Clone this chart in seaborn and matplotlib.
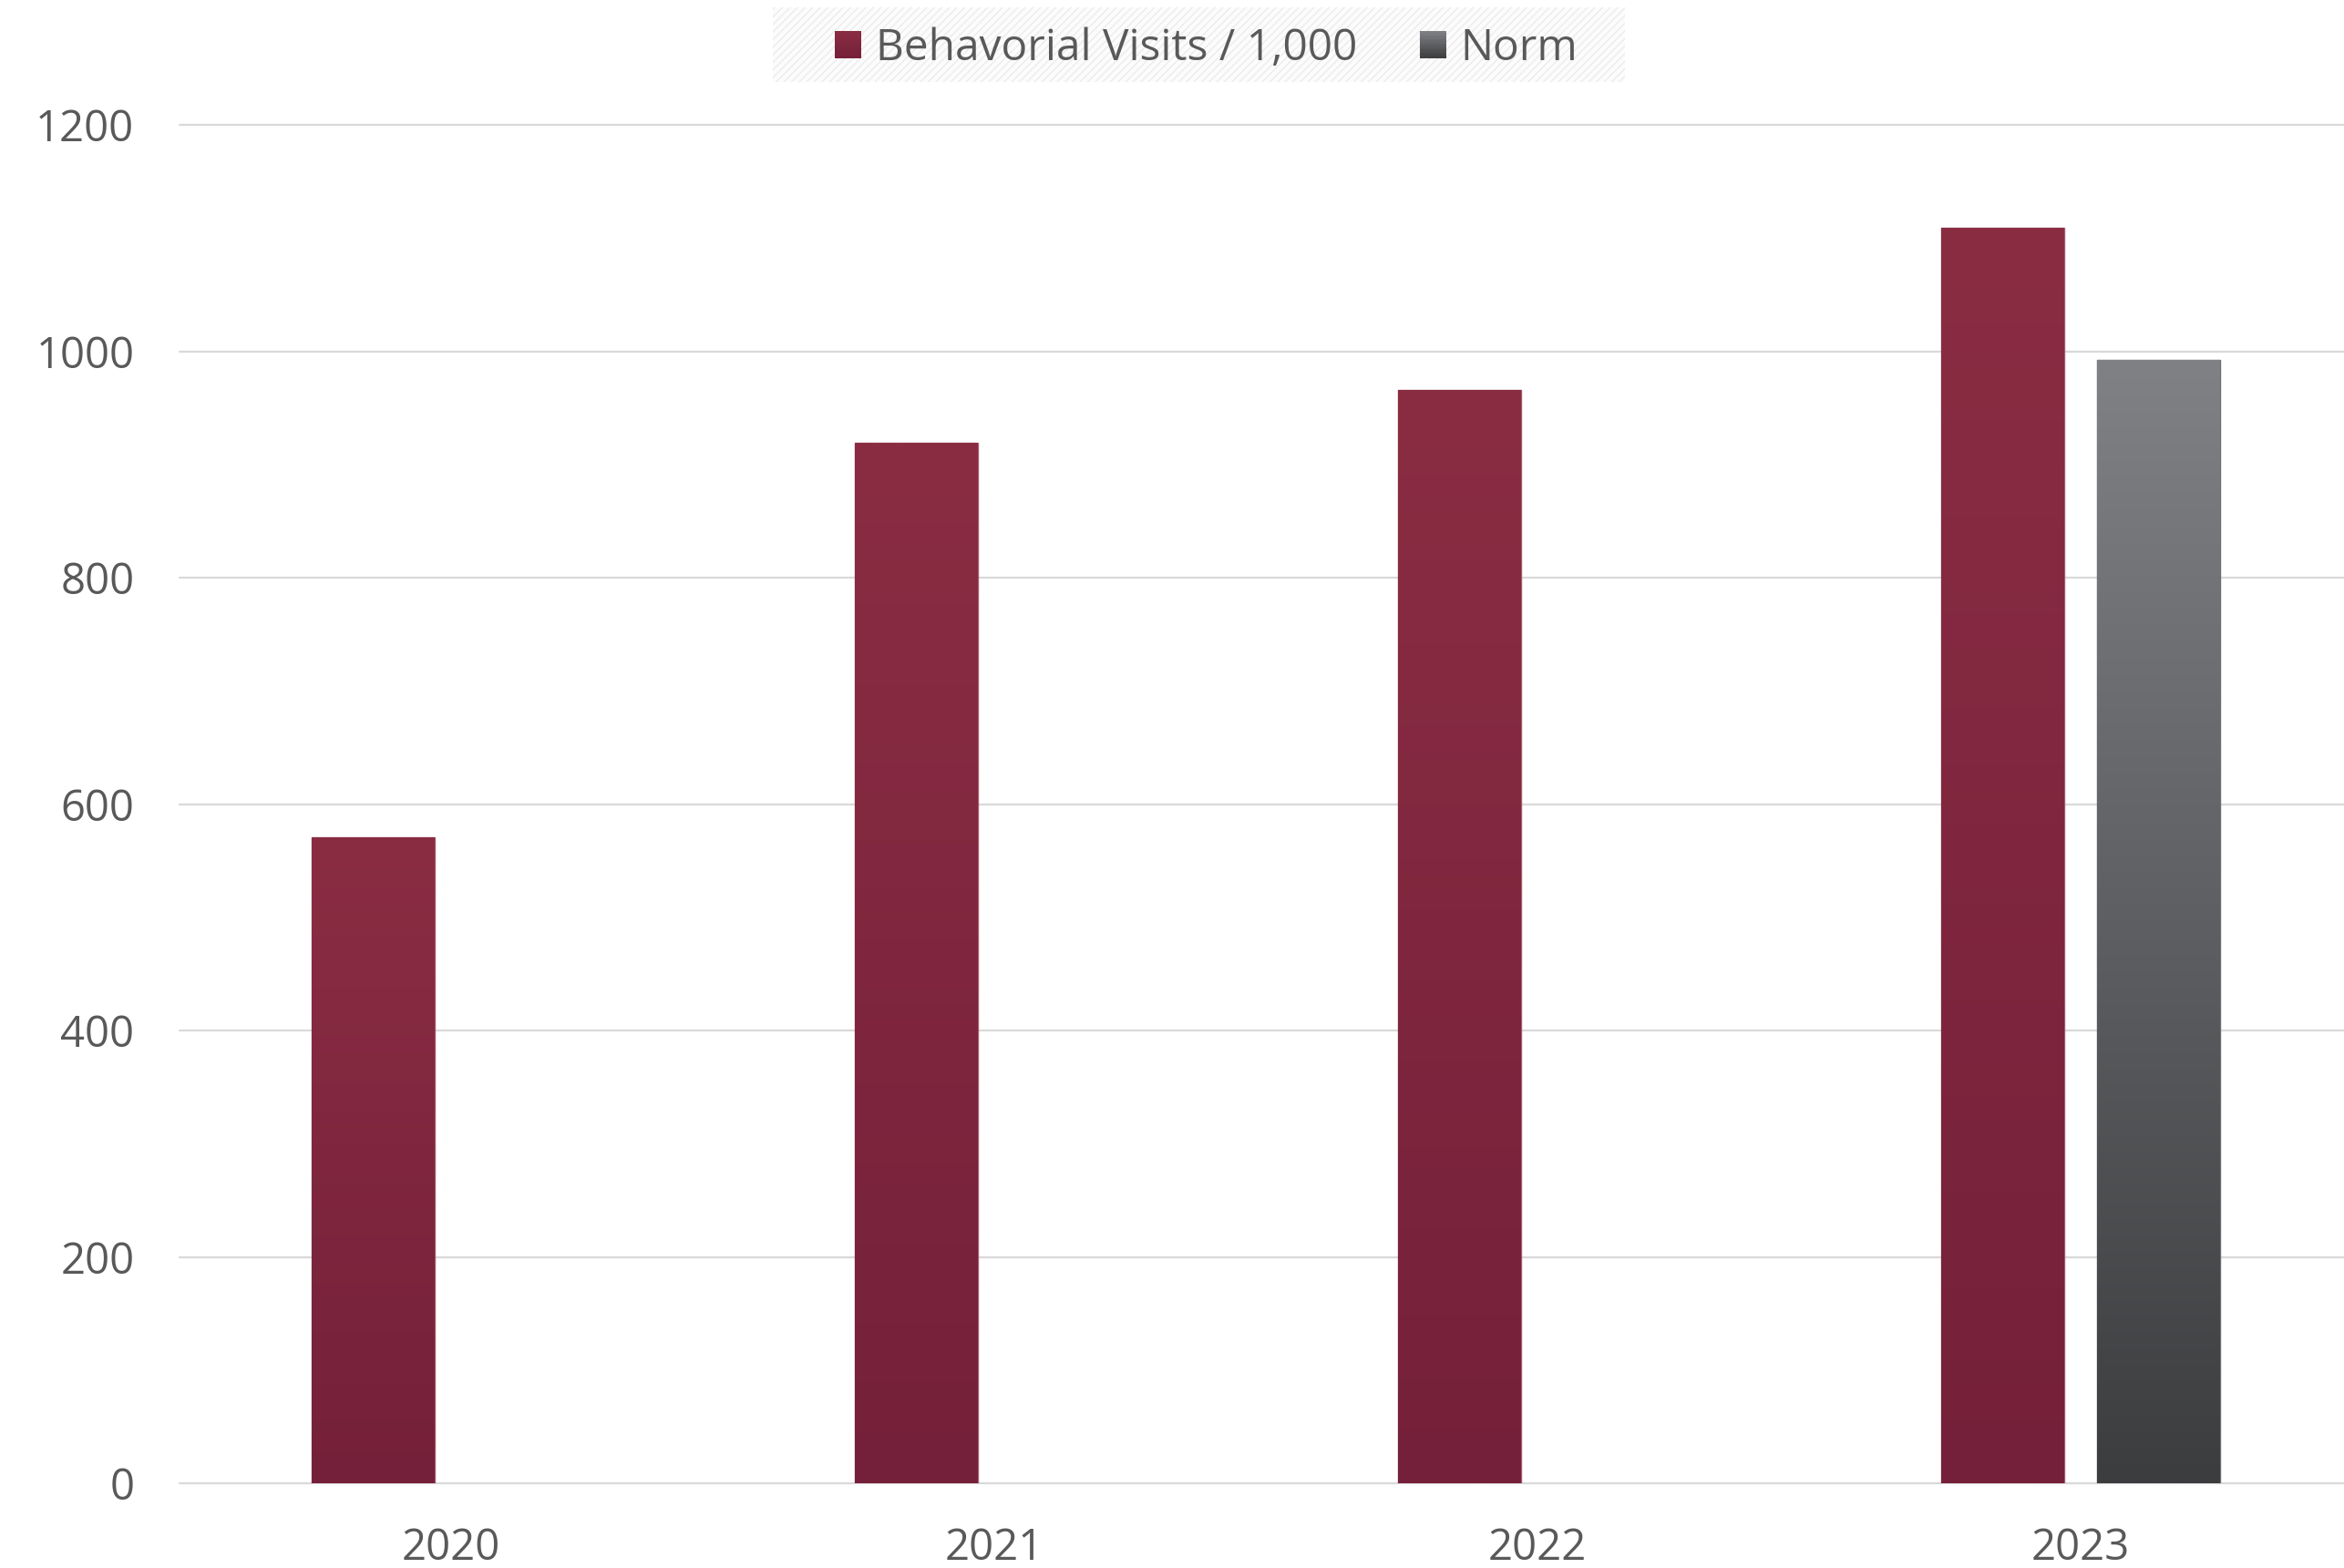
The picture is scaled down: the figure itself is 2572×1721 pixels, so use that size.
import numpy as np
import pandas as pd
import matplotlib
matplotlib.use("Agg")
import matplotlib.pyplot as plt
from matplotlib.patches import Patch, Rectangle
from matplotlib.legend_handler import HandlerBase
from matplotlib.colors import to_rgb
import seaborn as sns

# Chart data
years = ["2020", "2021", "2022", "2023"]
visits = [571, 919, 966, 1109]
norm_years = ["2023"]
norm = [992]
series_names = ["Behavorial Visits / 1,000", "Norm"]
y_ticks = [0, 200, 400, 600, 800, 1000, 1200]

# Long-form table for seaborn
df = pd.concat([
    pd.DataFrame({"Year": years, "Series": series_names[0], "Value": visits}),
    pd.DataFrame({"Year": norm_years, "Series": series_names[1], "Value": norm}),
], ignore_index=True)

sns.set_style("white")
plt.rcParams["font.family"] = ["Open Sans", "DejaVu Sans"]
plt.rcParams["hatch.linewidth"] = 1.0

text_color = "#595959"
grid_color = "#d9d9d9"
# top / bottom colours of the vertical gradients
grads = {
    series_names[0]: ("#8a2d43", "#75203a"),
    series_names[1]: ("#7f8185", "#3c3d3f"),
}
edges = {series_names[0]: "#a5596d", series_names[1]: "#6a6c70"}


def gradient_colors(name, n):
    top, bottom = np.array(to_rgb(grads[name][0])), np.array(to_rgb(grads[name][1]))
    t = np.linspace(0, 1, n)[:, None]
    return top * (1 - t) + bottom * t


class GradientHandler(HandlerBase):
    # legend square drawn as thin stacked bands (top light -> bottom dark)
    def __init__(self, name, n=24):
        super().__init__()
        self.name = name
        self.n = n

    def create_artists(self, legend, orig_handle, xdescent, ydescent,
                       width, height, fontsize, trans):
        cols = gradient_colors(self.name, self.n)
        band = height / self.n
        arts = []
        for i, c in enumerate(cols):
            y = -ydescent + height - (i + 1) * band
            r = Rectangle((-xdescent, y), width, band * 1.05, facecolor=c,
                          edgecolor="none", transform=trans)
            arts.append(r)
        return arts


fig = plt.figure(figsize=(25.72, 17.21), dpi=100)
ax = fig.add_axes([0.0767, 0.054, 0.9267, 0.8664])

sns.barplot(data=df, x="Year", y="Value", hue="Series", order=years,
            hue_order=series_names,
            palette=[grads[s][0] for s in series_names],
            width=0.574, gap=0.211, legend=False, ax=ax, saturation=1)

ax.set_xlim(-0.5, len(years) - 0.5)
ax.set_ylim(0, 1200)
ax.set_yticks(y_ticks)
ax.set_xlabel("")
ax.set_ylabel("")
sns.despine(ax=ax, left=True, bottom=True)
ax.set_axisbelow(True)
ax.yaxis.grid(True, color=grid_color, linewidth=1.6)
for gl in ax.get_ygridlines():
    gl.set_clip_on(False)
ax.tick_params(axis="both", length=0, labelsize=34, colors=text_color)
ax.tick_params(axis="x", pad=34)
ax.tick_params(axis="y", pad=36)

# vertical gradient fill for each bar
for container, name in zip(ax.containers, series_names):
    img = gradient_colors(name, 256)[:, None, :]
    for bar in container:
        if np.isnan(bar.get_height()) or bar.get_height() == 0:
            continue
        x0, w, h = bar.get_x(), bar.get_width(), bar.get_height()
        bar.set_edgecolor(edges[name])
        bar.set_linewidth(1.0)
        im = ax.imshow(img, extent=[x0, x0 + w, 0, h], aspect="auto",
                       origin="upper", zorder=bar.get_zorder() + 0.1,
                       interpolation="bilinear")
        im.set_clip_path(bar)
ax.set_xlim(-0.5, len(years) - 0.5)
ax.set_ylim(0, 1200)

# legend with faint hatched background
bg = Rectangle((0.3297, 0.9477), 0.3635, 0.0477, transform=fig.transFigure,
               facecolor="#fcfcfc", edgecolor="#ececec", linewidth=0,
               hatch="////", zorder=0)
fig.patches.append(bg)
handles = [Patch(facecolor=grads[s][0]) for s in series_names]
fig.legend(handles, series_names, loc="center", bbox_to_anchor=(0.5147, 0.969),
           ncol=2, frameon=False, fontsize=34.5, labelcolor=text_color,
           handlelength=0.6, handleheight=0.6, handletextpad=0.32,
           columnspacing=1.45, borderpad=0.2,
           handler_map={handles[0]: GradientHandler(series_names[0]),
                        handles[1]: GradientHandler(series_names[1])})

fig.savefig("out.png", dpi=100)
